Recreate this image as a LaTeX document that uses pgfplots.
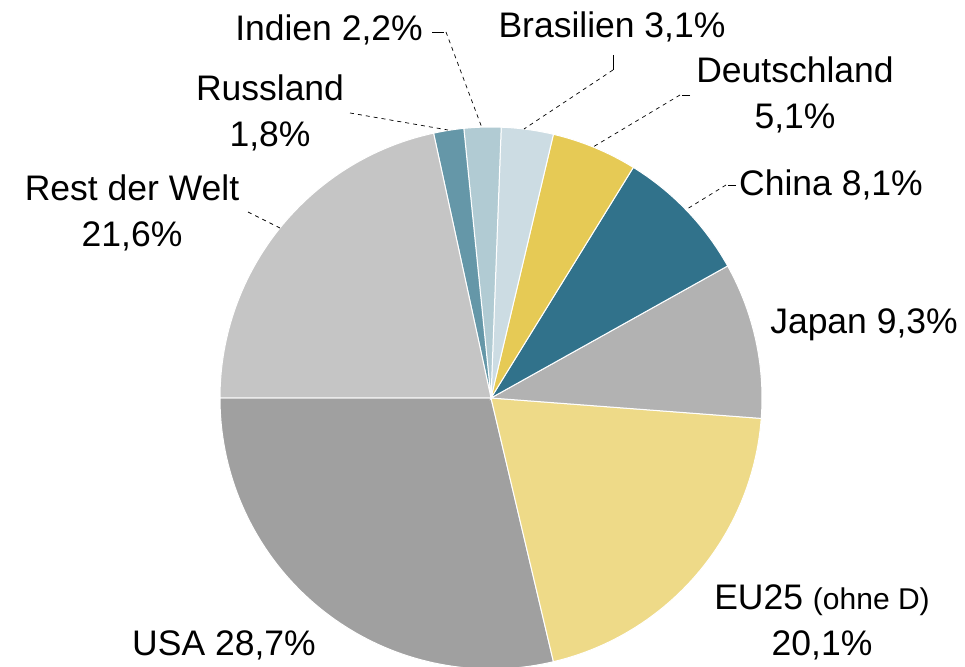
\documentclass[border=0pt]{standalone}
\usepackage{pgfplots}
\usepackage{pgfplotstable}
\pgfplotsset{compat=1.18}
\usepackage{fontspec}
\setmainfont{Liberation Sans}

\definecolor{cUSA}{HTML}{A0A0A0}
\definecolor{cEU}{HTML}{EEDA88}
\definecolor{cJapan}{HTML}{B2B2B2}
\definecolor{cChina}{HTML}{31728B}
\definecolor{cDE}{HTML}{E6CA55}
\definecolor{cBR}{HTML}{CCDCE3}
\definecolor{cIN}{HTML}{B1CBD3}
\definecolor{cRU}{HTML}{6597A8}
\definecolor{cRest}{HTML}{C5C5C5}

% shares in percent, counterclockwise from 180 deg
\pgfplotstableread{
name value color
USA 28.7 cUSA
EU25 20.1 cEU
Japan 9.3 cJapan
China 8.1 cChina
Deutschland 5.1 cDE
Brasilien 3.1 cBR
Indien 2.2 cIN
Russland 1.8 cRU
Rest 21.6 cRest
}\piedata

\begin{document}
\begin{tikzpicture}
\begin{axis}[
  scale only axis, width=965bp, height=667bp,
  xmin=0, xmax=965, ymin=0, ymax=667,
  hide axis, clip=false]
\pgfplotstablegetrowsof{\piedata}
\pgfmathtruncatemacro\nrows{\pgfplotsretval-1}
\gdef\angA{180}
\pgfplotsforeachungrouped \i in {0,...,\nrows}{%
  \pgfplotstablegetelem{\i}{value}\of\piedata \let\val\pgfplotsretval
  \pgfplotstablegetelem{\i}{color}\of\piedata \let\col\pgfplotsretval
  \pgfmathsetmacro\angB{\angA+3.6*\val}%
  \edef\slice{\noexpand\filldraw[fill=\col, draw=white, line width=1bp]
    (axis cs:491,269) -- ++(\angA:271bp)
    arc[start angle=\angA, end angle=\angB, radius=271bp] -- cycle;}%
  \slice
  \global\let\angA\angB
}

% leader lines
\tikzset{lead/.style={line width=0.7bp, dash pattern=on 4bp off 4bp}}
\draw[line width=0.7bp] (axis cs:432,635) -- (axis cs:444,635);
\draw[lead] (axis cs:446,635) -- (axis cs:482,539);
\draw[lead] (axis cs:350,554) -- (axis cs:448,537);
\draw[line width=0.7bp] (axis cs:613,612) -- (axis cs:613,597);
\draw[lead] (axis cs:613,597) -- (axis cs:524,538);
\draw[line width=0.7bp] (axis cs:690,572) -- (axis cs:682,572);
\draw[lead] (axis cs:680,572) -- (axis cs:593,520);
\draw[line width=0.7bp] (axis cs:736,482) -- (axis cs:728,482);
\draw[lead] (axis cs:726,482) -- (axis cs:687,458);
\draw[lead] (axis cs:248,455) -- (axis cs:280,439);

% labels
\tikzset{lbl/.style={inner sep=0pt, align=center,
  font=\fontsize{35.5bp}{46bp}\selectfont}}
\node[lbl] at (axis cs:329,637) {Indien 2,2\%};
\node[lbl] at (axis cs:270,554) {Russland\\1,8\%};
\node[lbl] at (axis cs:612,640) {Brasilien 3,1\%};
\node[lbl] at (axis cs:795,572) {Deutschland\\5,1\%};
\node[lbl] at (axis cs:831,482) {China 8,1\%};
\node[lbl] at (axis cs:864,342) {Japan 9,3\%};
\node[lbl] at (axis cs:132,454) {Rest der Welt\\21,6\%};
\node[lbl] at (axis cs:822,45) {EU25 {\fontsize{30bp}{34bp}\selectfont(ohne D)}\\20,1\%};
\node[lbl] at (axis cs:224,22) {USA 28,7\%};
\end{axis}
\pgfresetboundingbox
\path (0,0) rectangle (965bp,667bp);
\end{tikzpicture}
\end{document}
